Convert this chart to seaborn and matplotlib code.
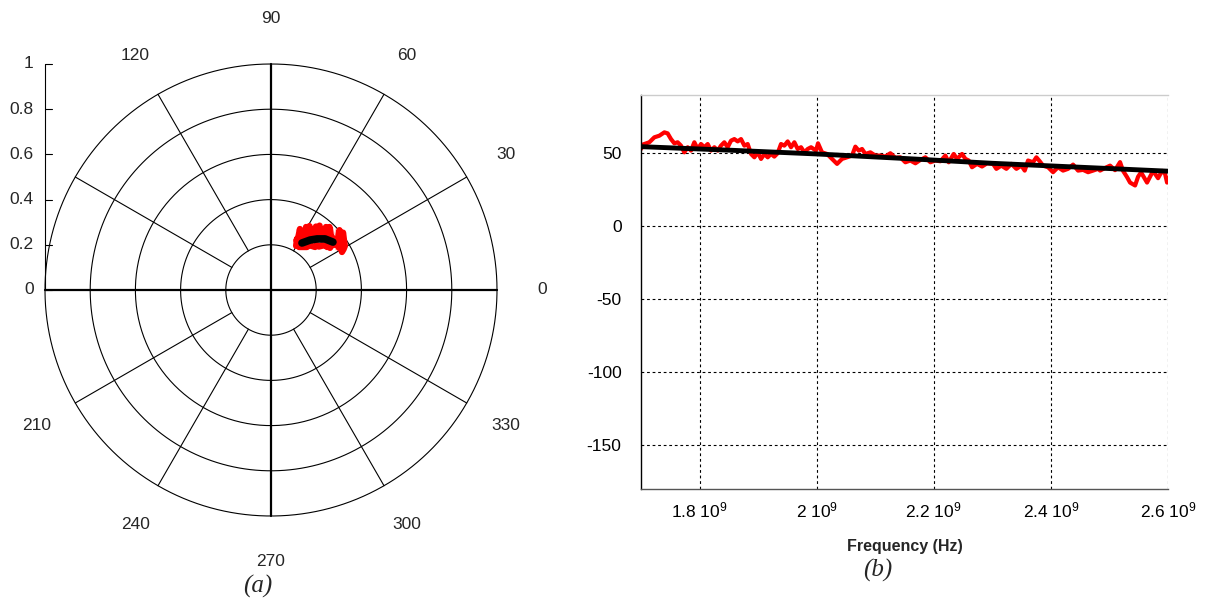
import numpy as np
import seaborn as sns
import matplotlib.pyplot as plt
from matplotlib.ticker import FuncFormatter

# (a) polar view: measured trace (red) and fitted model (black), x = Re, y = Im
meas_re = [0.111, 0.115, 0.119, 0.128, 0.133, 0.142, 0.150, 0.155, 0.164, 0.170,
           0.177, 0.186, 0.192, 0.199, 0.208, 0.215, 0.221, 0.230, 0.237, 0.243,
           0.252, 0.259, 0.265, 0.274, 0.281, 0.288, 0.296, 0.303, 0.310, 0.319,
           0.323, 0.327, 0.321, 0.314, 0.308, 0.301, 0.294, 0.288, 0.281, 0.274,
           0.268, 0.261, 0.254, 0.248, 0.239, 0.230, 0.221, 0.212, 0.204, 0.195,
           0.186, 0.177, 0.168, 0.159, 0.150, 0.142, 0.133, 0.124, 0.115, 0.113]
meas_im = [0.195, 0.250, 0.226, 0.270, 0.221, 0.274, 0.232, 0.279, 0.239, 0.283,
           0.246, 0.288, 0.243, 0.281, 0.250, 0.285, 0.246, 0.283, 0.241, 0.279,
           0.243, 0.279, 0.239, 0.274, 0.232, 0.272, 0.226, 0.265, 0.221, 0.254,
           0.221, 0.195, 0.180, 0.168, 0.195, 0.186, 0.201, 0.177, 0.195, 0.184,
           0.199, 0.186, 0.201, 0.190, 0.199, 0.188, 0.201, 0.192, 0.199, 0.190,
           0.201, 0.192, 0.199, 0.190, 0.204, 0.195, 0.206, 0.190, 0.204, 0.221]
model_re = [0.137, 0.173, 0.204, 0.239, 0.274]
model_im = [0.208, 0.221, 0.226, 0.226, 0.212]

ring_radii = [0.2, 0.4, 0.6, 0.8, 1.0]
spoke_angles = [30, 60, 120, 150, 210, 240, 300, 330]
angle_labels = [0, 30, 60, 90, 120, 210, 240, 270, 300, 330]
r_ticks = [0, 0.2, 0.4, 0.6, 0.8, 1]

# (b) phase vs frequency
freq = [1.7000e9, 1.7028e9, 1.7142e9, 1.7228e9, 1.7313e9, 1.7399e9, 1.7455e9, 1.7512e9,
        1.7569e9, 1.7626e9, 1.7683e9, 1.7740e9, 1.7797e9, 1.7854e9, 1.7911e9, 1.7968e9,
        1.8025e9, 1.8082e9, 1.8139e9, 1.8196e9, 1.8253e9, 1.8310e9, 1.8366e9, 1.8423e9,
        1.8480e9, 1.8537e9, 1.8594e9, 1.8651e9, 1.8708e9, 1.8765e9, 1.8822e9, 1.8879e9,
        1.8936e9, 1.8993e9, 1.9050e9, 1.9107e9, 1.9164e9, 1.9220e9, 1.9277e9, 1.9334e9,
        1.9391e9, 1.9448e9, 1.9505e9, 1.9562e9, 1.9619e9, 1.9676e9, 1.9733e9, 1.9790e9,
        1.9847e9, 1.9904e9, 1.9989e9, 2.0023e9, 2.0091e9, 2.0177e9, 2.0262e9, 2.0348e9,
        2.0433e9, 2.0518e9, 2.0604e9, 2.0661e9, 2.0718e9, 2.0775e9, 2.0832e9, 2.0917e9,
        2.1002e9, 2.1088e9, 2.1173e9, 2.1259e9, 2.1344e9, 2.1429e9, 2.1515e9, 2.1600e9,
        2.1686e9, 2.1771e9, 2.1856e9, 2.1942e9, 2.2027e9, 2.2113e9, 2.2198e9, 2.2255e9,
        2.2340e9, 2.2397e9, 2.2483e9, 2.2540e9, 2.2597e9, 2.2653e9, 2.2739e9, 2.2824e9,
        2.2910e9, 2.2995e9, 2.3012e9, 2.3069e9, 2.3154e9, 2.3240e9, 2.3325e9, 2.3411e9,
        2.3496e9, 2.3553e9, 2.3610e9, 2.3695e9, 2.3752e9, 2.3809e9, 2.3866e9, 2.3952e9,
        2.4037e9, 2.4122e9, 2.4208e9, 2.4293e9, 2.4379e9, 2.4464e9, 2.4549e9, 2.4635e9,
        2.4720e9, 2.4806e9, 2.4840e9, 2.4925e9, 2.5011e9, 2.5096e9, 2.5181e9, 2.5233e9,
        2.5301e9, 2.5352e9, 2.5438e9, 2.5489e9, 2.5540e9, 2.5642e9, 2.5745e9, 2.5830e9,
        2.5899e9, 2.5950e9, 2.5984e9, 2.6000e9]
phase_meas = [53.0, 56.0, 57.6, 61.0, 62.1, 64.4, 63.7, 59.8,
              56.9, 57.6, 55.3, 50.7, 54.2, 51.9, 57.6, 53.0,
              56.4, 54.2, 56.4, 51.9, 54.2, 51.9, 55.3, 57.6,
              54.2, 58.7, 59.8, 58.2, 59.8, 55.3, 56.4, 49.6,
              47.3, 50.7, 46.2, 49.6, 47.3, 49.6, 47.8, 50.1,
              56.4, 55.3, 58.2, 54.2, 57.6, 53.0, 54.2, 50.7,
              53.0, 54.2, 51.9, 56.9, 50.7, 49.6, 46.2, 42.8,
              46.2, 47.3, 48.5, 54.6, 51.9, 53.0, 49.6, 50.7,
              48.5, 48.5, 47.8, 50.1, 46.9, 47.3, 43.9, 45.1,
              43.2, 45.5, 47.3, 43.9, 45.1, 44.6, 48.5, 43.9,
              49.6, 46.2, 49.6, 46.2, 45.1, 40.5, 42.8, 41.0,
              43.2, 42.8, 42.8, 39.4, 41.6, 39.4, 42.8, 39.4,
              41.6, 38.2, 45.1, 43.9, 47.3, 44.6, 41.6, 40.5,
              37.1, 40.5, 38.2, 39.4, 42.3, 38.2, 38.7, 37.1,
              38.2, 39.4, 38.2, 40.0, 41.6, 38.5, 44.0, 38.0,
              33.7, 30.0, 28.0, 34.0, 37.0, 30.0, 38.0, 33.0,
              38.0, 36.0, 30.0, 33.0]
freq_model = [1.70e9, 1.85e9, 2.00e9, 2.15e9, 2.30e9, 2.45e9, 2.60e9]
phase_model = [54.6, 52.2, 49.6, 46.5, 43.2, 40.5, 37.8]

x_ticks = [1.8e9, 2.0e9, 2.2e9, 2.4e9, 2.6e9]
y_ticks = [50, 0, -50, -100, -150]

sns.set_theme(style="white")
plt.rcParams['font.family'] = ['Liberation Sans', 'DejaVu Sans']
plt.rcParams['mathtext.fontset'] = 'custom'
plt.rcParams['mathtext.rm'] = 'Liberation Sans'
plt.rcParams['mathtext.default'] = 'regular'
plt.rcParams['axes.unicode_minus'] = False

fs = 12.5
fig = plt.figure(figsize=(12.05, 6.06), dpi=100)

# ---- (a) polar chart drawn on a plain axes, 226 px per unit
ax1 = fig.add_axes([0, 26 / 606, 560 / 1205, 580 / 606])
ax1.set_xlim(-271 / 226, 289 / 226)
ax1.set_ylim(-290 / 226, 290 / 226)
ax1.axis('off')

t = np.linspace(0, 2 * np.pi, 400)
for r in ring_radii:
    ax1.plot(r * np.cos(t), r * np.sin(t), color='black', lw=0.8)
for a in spoke_angles:
    th = np.deg2rad(a)
    ax1.plot([0.2 * np.cos(th), np.cos(th)], [0.2 * np.sin(th), np.sin(th)],
             color='black', lw=0.8)
ax1.plot([-1, 1], [0, 0], color='black', lw=1.6)
ax1.plot([0, 0], [-1, 1], color='black', lw=1.6)
for a in angle_labels:
    th = np.deg2rad(a)
    ax1.text(1.2 * np.cos(th), 1.2 * np.sin(th), str(a), ha='center', va='center',
             fontsize=fs)

# radial scale on the left
ax1.plot([-1, -1], [0, 1], color='black', lw=0.8)
for v in r_ticks:
    ax1.plot([-1, -0.97], [v, v], color='black', lw=0.8)
    ax1.text(-1.05, v, f"{v:g}", ha='right', va='center', fontsize=fs)

sns.lineplot(x=meas_re, y=meas_im, sort=False, ax=ax1, color='#ff0000', lw=4.5,
             solid_joinstyle='round')
sns.lineplot(x=model_re, y=model_im, sort=False, ax=ax1, color='black', lw=5.5,
             solid_capstyle='round')

# ---- (b) phase vs frequency
ax2 = fig.add_axes([641 / 1205, 117 / 606, 527 / 1205, 394 / 606])
sns.lineplot(x=freq, y=phase_meas, ax=ax2, color='#ff0000', lw=3.0)
sns.lineplot(x=freq_model, y=phase_model, ax=ax2, color='black', lw=3.5)
ax2.set_xlim(1.7e9, 2.6e9)
ax2.set_ylim(-180, 90)
ax2.set_xticks(x_ticks)
ax2.set_yticks(y_ticks)
ax2.xaxis.set_major_formatter(FuncFormatter(lambda v, p: f"{v / 1e9:g} 10$^{{9}}$"))
ax2.grid(True, color='black', lw=0.8, ls=(0, (2.5, 2.5)))
ax2.tick_params(direction='in', length=5, width=0.8, colors='black', labelsize=fs)
ax2.tick_params(axis='y', pad=14)
ax2.tick_params(axis='x', pad=8)
ax2.spines['right'].set_visible(False)
ax2.spines['top'].set_color('#cccccc')
ax2.spines['left'].set_color('black')
ax2.spines['bottom'].set_color('#555555')
for s in ['top', 'left', 'bottom']:
    ax2.spines[s].set_linewidth(1.0)
ax2.set_xlabel('')
ax2.set_ylabel('')

fig.text(904.5 / 1205, 1 - 546 / 606, 'Frequency (Hz)', ha='center', va='center',
         fontsize=11.5, fontweight='bold')
fig.text(258 / 1205, 1 - 586 / 606, '(a)', ha='center', va='center', fontsize=18,
         style='italic', family='Liberation Serif')
fig.text(878 / 1205, 1 - 570 / 606, '(b)', ha='center', va='center', fontsize=18,
         style='italic', family='Liberation Serif')

fig.savefig('out.png', dpi=100)
